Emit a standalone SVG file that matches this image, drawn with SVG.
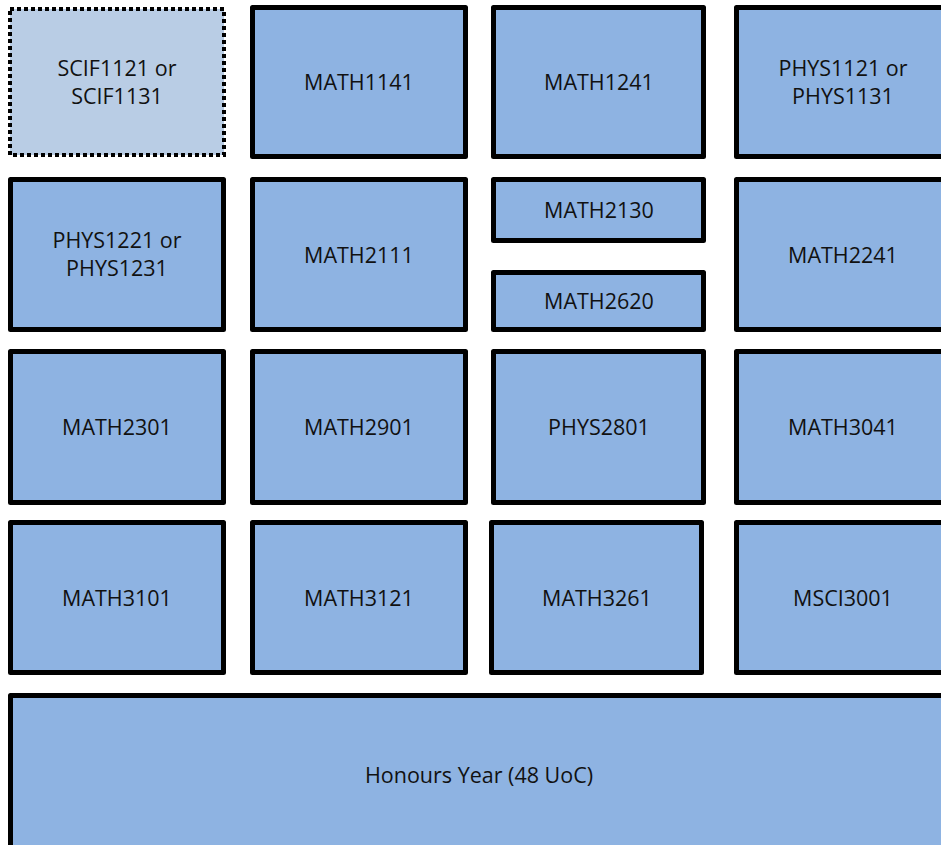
<svg xmlns="http://www.w3.org/2000/svg" width="941" height="845" viewBox="0 0 941 845">
<style>
.box{fill:#8EB3E2;stroke:#000;stroke-width:5;stroke-linejoin:round}
.opt{fill:#B9CDE5;stroke:#000;stroke-width:4;stroke-dasharray:4 3}
text{font-family:"Open Sans","Liberation Sans",sans-serif;font-size:21.5px;fill:#111;text-anchor:middle}
</style>
<rect width="941" height="845" fill="#fff"/>
<g id="scif"><rect class="opt" x="10" y="9" width="214" height="146"/><text x="117" y="76">SCIF1121 or</text><text x="117" y="104">SCIF1131</text></g>
<g id="math1141"><rect class="box" x="252.5" y="7.5" width="213" height="149"/><text x="359" y="90">MATH1141</text></g>
<g id="math1241"><rect class="box" x="493.5" y="7.5" width="210" height="149"/><text x="599" y="90">MATH1241</text></g>
<g id="phys1121"><rect class="box" x="736.5" y="7.5" width="213" height="149"/><text x="843" y="76">PHYS1121 or</text><text x="843" y="104">PHYS1131</text></g>
<g id="phys1221"><rect class="box" x="10.5" y="179.5" width="213" height="150"/><text x="117" y="248">PHYS1221 or</text><text x="117" y="276">PHYS1231</text></g>
<g id="math2111"><rect class="box" x="252.5" y="179.5" width="213" height="150"/><text x="359" y="263">MATH2111</text></g>
<g id="math2130"><rect class="box" x="493.5" y="179.5" width="210" height="61"/><text x="599" y="218">MATH2130</text></g>
<g id="math2620"><rect class="box" x="493.5" y="272.5" width="210" height="57"/><text x="599" y="309">MATH2620</text></g>
<g id="math2241"><rect class="box" x="736.5" y="179.5" width="213" height="150"/><text x="843" y="263">MATH2241</text></g>
<g id="math2301"><rect class="box" x="10.5" y="351.5" width="213" height="151"/><text x="117" y="435">MATH2301</text></g>
<g id="math2901"><rect class="box" x="252.5" y="351.5" width="213" height="151"/><text x="359" y="435">MATH2901</text></g>
<g id="phys2801"><rect class="box" x="493.5" y="351.5" width="210" height="151"/><text x="599" y="435">PHYS2801</text></g>
<g id="math3041"><rect class="box" x="736.5" y="351.5" width="213" height="151"/><text x="843" y="435">MATH3041</text></g>
<g id="math3101"><rect class="box" x="10.5" y="522.5" width="213" height="150"/><text x="117" y="606">MATH3101</text></g>
<g id="math3121"><rect class="box" x="252.5" y="522.5" width="213" height="150"/><text x="359" y="606">MATH3121</text></g>
<g id="math3261"><rect class="box" x="491.5" y="522.5" width="210" height="150"/><text x="597" y="606">MATH3261</text></g>
<g id="msci3001"><rect class="box" x="736.5" y="522.5" width="213" height="150"/><text x="843" y="606">MSCI3001</text></g>
<g id="honours"><rect class="box" x="10.5" y="695.5" width="937" height="159"/><text x="479" y="783">Honours Year (48 UoC)</text></g>
<g id="connectors"></g>
</svg>
